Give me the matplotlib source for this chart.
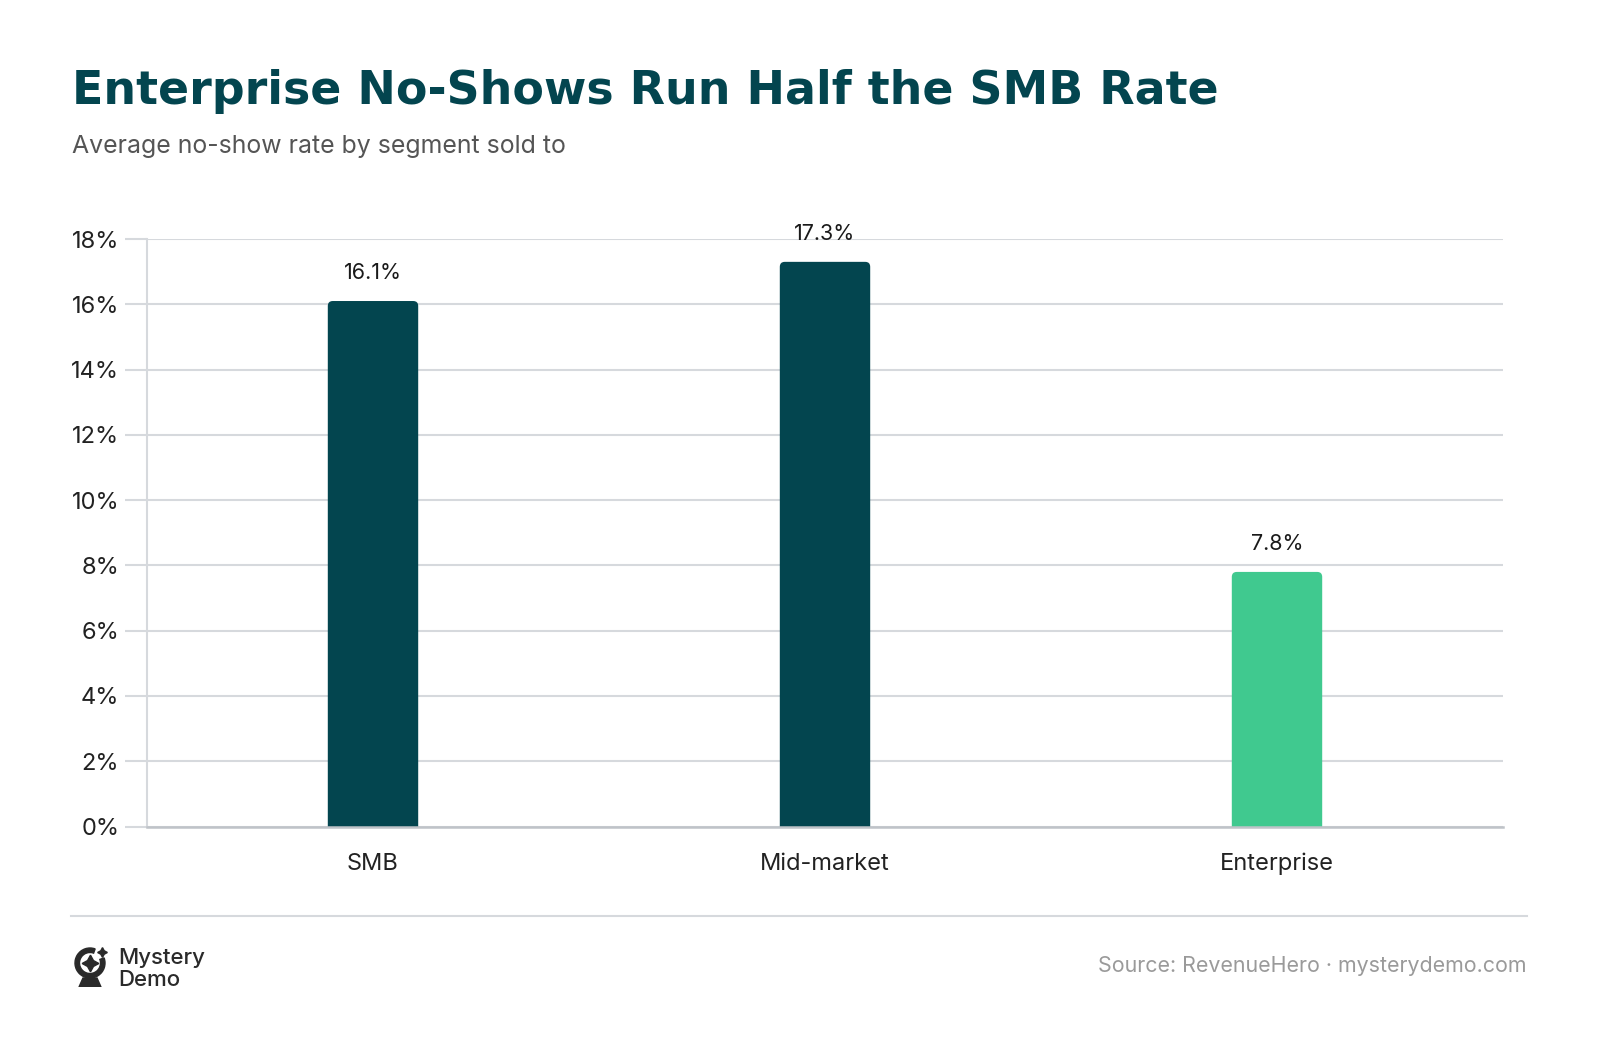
import matplotlib
matplotlib.use("Agg")
import matplotlib.pyplot as plt
from matplotlib.patches import Wedge, Polygon, FancyBboxPatch
from matplotlib.ticker import FuncFormatter

categories = ["SMB", "Mid-market", "Enterprise"]
values = [16.1, 17.3, 7.8]
bar_colors = ["#03454F", "#03454F", "#40C98F"]
y_ticks = [0, 2, 4, 6, 8, 10, 12, 14, 16, 18]

title = "Enterprise No-Shows Run Half the SMB Rate"
subtitle = "Average no-show rate by segment sold to"
source = "Source: RevenueHero \u00b7 mysterydemo.com"

W, H = 1600, 1042
fig = plt.figure(figsize=(W / 100, H / 100), dpi=100)
fig.patch.set_facecolor("white")

def fx(px):
    return px / W

def fy(py):
    return 1 - py / H

ax_left, ax_right, ax_top, ax_bot = 147, 1503, 239, 826.5
ax = fig.add_axes([fx(ax_left), fy(ax_bot), fx(ax_right) - fx(ax_left), fy(ax_top) - fy(ax_bot)])
x = list(range(len(categories)))
bars = ax.bar(x, values, width=0.2, color=bar_colors, zorder=3)
ax.set_xlim(-0.5, 2.5)
ax.set_ylim(0, 18)

# replace bars with top-rounded versions (same geometry from the bar container)
px_per_x = (ax_right - ax_left) / 3.0
px_per_y = (ax_bot - ax_top) / 18.0
r_px = 5
for b in bars:
    bx, bw, bh = b.get_x(), b.get_width(), b.get_height()
    b.set_visible(False)
    rx = r_px / px_per_x
    ry = r_px / px_per_y
    p = FancyBboxPatch((bx, -1.0), bw, bh + 1.0,
                       boxstyle=f"round,pad=0,rounding_size={rx}",
                       mutation_aspect=ry / rx, color=b.get_facecolor(),
                       linewidth=0, zorder=3)
    ax.add_patch(p)

ax.set_yticks(y_ticks)
ax.yaxis.set_major_formatter(FuncFormatter(lambda v, p: f"{v:.0f}%"))
ax.set_xticks(x)
ax.set_xticklabels(categories)
ax.grid(axis="y", color="#D6D9DD", linewidth=1.5, zorder=0)
ax.set_axisbelow(True)
for s in ["top", "right"]:
    ax.spines[s].set_visible(False)
ax.spines["left"].set_color("#D6D9DD")
ax.spines["left"].set_linewidth(1.5)
ax.spines["bottom"].set_color("#BFC3C8")
ax.spines["bottom"].set_linewidth(1.8)
ax.spines["bottom"].set_zorder(4)
ax.tick_params(axis="y", length=16, width=1.5, color="#D6D9DD", labelsize=17,
               labelcolor="#222222", pad=4)
ax.tick_params(axis="x", length=0, labelsize=17, labelcolor="#222222", pad=19)
for lab in ax.get_xticklabels() + ax.get_yticklabels():
    lab.set_fontfamily("Inter")

for xi, v in zip(x, values):
    ax.annotate(f"{v:.1f}%", (xi, v), xytext=(0, 13), textcoords="offset points",
                ha="center", va="bottom", fontsize=15.5, color="#1a1a1a", family="Inter",
                zorder=5)

fig.text(fx(72), fy(91), title, fontsize=33, fontweight="heavy", color="#03454F",
         family="DejaVu Sans", ha="left", va="center")
fig.text(fx(72), fy(146), subtitle, fontsize=17.9, color="#555555", family="Inter",
         ha="left", va="center")

fig.add_artist(plt.Line2D([fx(71), fx(1527)], [fy(916), fy(916)], color="#D6D9DD",
                          linewidth=1.5, transform=fig.transFigure))

fig.text(fx(1527), fy(966), source, fontsize=15.4, color="#9A9A9A", family="Inter",
         ha="right", va="center")

# logo
lax = fig.add_axes([fx(72), fy(987), fx(40), fy(945) - fy(987)])
lax.set_xlim(0, 40)
lax.set_ylim(0, 42)
lax.set_aspect("equal")
lax.axis("off")
lax.add_patch(Wedge((18, 24), 15, 70, 20, width=4.5, color="#2a2a2a"))
lax.add_patch(Polygon([[7, 0], [29, 0], [25, 9], [11, 9]], closed=True, color="#2a2a2a"))
lax.plot([18], [24], marker=(4, 1, 0), markersize=12, color="#2a2a2a")
lax.plot([30], [35], marker=(4, 1, 0), markersize=7, color="#2a2a2a")
fig.text(fx(118), fy(958), "Mystery", fontsize=16, fontweight="medium", color="#2a2a2a",
         family="Inter", ha="left", va="center")
fig.text(fx(118), fy(980), "Demo", fontsize=16, fontweight="medium", color="#2a2a2a",
         family="Inter", ha="left", va="center")

fig.savefig("out.png", dpi=100, facecolor="white")
